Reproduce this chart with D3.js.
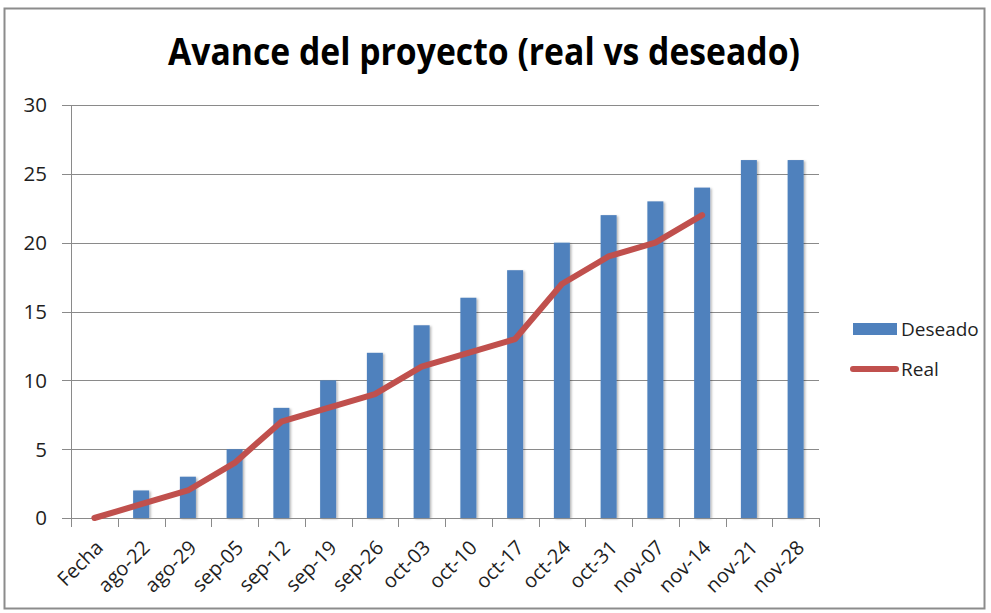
<!DOCTYPE html>
<html>
<head>
<meta charset="utf-8">
<script src="https://cdn.jsdelivr.net/npm/d3@7"></script>
<style>
  body { margin: 0; background: #fff; }
  svg { font-family: "Open Sans", "DejaVu Sans", sans-serif; }
</style>
</head>
<body>
<div id="chart"></div>
<script>
// chart data
var categories = ["Fecha", "ago-22", "ago-29", "sep-05", "sep-12", "sep-19", "sep-26", "oct-03",
    "oct-10", "oct-17", "oct-24", "oct-31", "nov-07", "nov-14", "nov-21", "nov-28"];
var deseado = [0, 2, 3, 5, 8, 10, 12, 14, 16, 18, 20, 22, 23, 24, 26, 26];
var real = [0, 1, 2, 4, 7, 8, 9, 11, 12, 13, 17, 19, 20, 22];
var yTicks = [0, 5, 10, 15, 20, 25, 30];

var blue = '#4F81BD';
var red = '#C0504D';

var W = 991, H = 613;
var margin = { top: 105, left: 71 },
    width = 819 - margin.left,
    height = 518 - margin.top;

var svg = d3.select("#chart")
    .append("svg")
    .attr("width", W)
    .attr("height", H);

// drop shadow for bars
var defs = svg.append("defs");
var f = defs.append("filter").attr("id", "shadow")
    .attr("x", "-30%").attr("y", "-5%").attr("width", "160%").attr("height", "110%");
f.append("feDropShadow").attr("dx", 1.5).attr("dy", 1).attr("stdDeviation", 1.2)
    .attr("flood-color", "#000").attr("flood-opacity", 0.3);

// outer frame
svg.append("rect")
    .attr("x", 4.5).attr("y", 8.5)
    .attr("width", 980).attr("height", 600)
    .attr("fill", "#fff")
    .attr("stroke", "#8c8c8c")
    .attr("stroke-width", 2);

// title
svg.append("text")
    .attr("x", 484)
    .attr("y", 65)
    .attr("text-anchor", "middle")
    .attr("font-family", "'Liberation Sans Narrow', 'Open Sans', sans-serif")
    .attr("font-size", 38)
    .attr("font-weight", "bold")
    .attr("textLength", 632)
    .attr("lengthAdjust", "spacingAndGlyphs")
    .attr("fill", "#000")
    .text("Avance del proyecto (real vs deseado)");

var g = svg.append("g")
    .attr("transform", "translate(" + margin.left + "," + margin.top + ")");

var x = d3.scaleBand()
    .domain(categories)
    .range([0, width]);

var y = d3.scaleLinear()
    .domain([0, 30])
    .range([height, 0]);

// gridlines
g.append("g")
    .selectAll("line")
    .data(yTicks)
    .enter()
    .append("line")
    .attr("x1", -9)
    .attr("x2", width)
    .attr("y1", function (d) { return Math.round(y(d)) + 0.5 })
    .attr("y2", function (d) { return Math.round(y(d)) + 0.5 })
    .attr("stroke", "#8a8a8a")
    .attr("stroke-width", 1);

// y labels
g.append("g")
    .selectAll("text")
    .data(yTicks)
    .enter()
    .append("text")
    .attr("x", -24)
    .attr("y", function (d) { return y(d) })
    .attr("dy", "0.36em")
    .attr("text-anchor", "end")
    .attr("font-size", 20.5)
    .attr("fill", "#1f1f1f")
    .text(function (d) { return d });

// y axis line
g.append("line")
    .attr("x1", 0.5).attr("x2", 0.5)
    .attr("y1", 0).attr("y2", height)
    .attr("stroke", "#8a8a8a");

// x axis ticks
var tickPos = categories.map(function (c) { return x(c) }).concat([width]);
g.append("g")
    .selectAll("line")
    .data(tickPos)
    .enter()
    .append("line")
    .attr("x1", function (d) { return Math.round(d) + 0.5 })
    .attr("x2", function (d) { return Math.round(d) + 0.5 })
    .attr("y1", height)
    .attr("y2", height + 9)
    .attr("stroke", "#8a8a8a");

// bars
var barW = 16;
g.append("g")
    .selectAll("rect")
    .data(categories.map(function (c, i) { return { c: c, v: deseado[i] } }).filter(function (d) { return d.v > 0 }))
    .enter()
    .append("rect")
    .attr("x", function (d) { return x(d.c) + x.bandwidth() / 2 - barW / 2 })
    .attr("y", function (d) { return y(d.v) })
    .attr("width", barW)
    .attr("height", function (d) { return height - y(d.v) })
    .attr("fill", blue)
    .attr("filter", "url(#shadow)");

// x axis baseline
g.append("line")
    .attr("x1", 0).attr("x2", width)
    .attr("y1", height + 0.5).attr("y2", height + 0.5)
    .attr("stroke", "#8a8a8a");

// line
g.append("path")
    .datum(real)
    .attr("fill", "none")
    .attr("stroke", red)
    .attr("stroke-width", 6)
    .attr("stroke-linecap", "round")
    .attr("stroke-linejoin", "round")
    .attr("d", d3.line()
        .x(function (d, i) { return x(categories[i]) + x.bandwidth() / 2 })
        .y(function (d) { return y(d) })
    );

// x labels
g.append("g")
    .selectAll("text")
    .data(categories)
    .enter()
    .append("text")
    .attr("transform", function (d) {
        return "translate(" + (x(d) + x.bandwidth() / 2 + 5) + "," + (height + 26) + ") rotate(-45)";
    })
    .attr("text-anchor", "end")
    .attr("dy", "0.35em")
    .attr("font-size", 20)
    .attr("fill", "#1f1f1f")
    .text(function (d) { return d });

// legend
var legend = svg.append("g");
legend.append("rect")
    .attr("x", 853).attr("y", 323)
    .attr("width", 44).attr("height", 12)
    .attr("fill", blue);
legend.append("text")
    .attr("x", 901).attr("y", 329)
    .attr("dy", "0.36em")
    .attr("font-size", 19)
    .attr("fill", "#1f1f1f")
    .text("Deseado");
legend.append("line")
    .attr("x1", 853).attr("x2", 896)
    .attr("y1", 369).attr("y2", 369)
    .attr("stroke", red)
    .attr("stroke-width", 6)
    .attr("stroke-linecap", "round");
legend.append("text")
    .attr("x", 901).attr("y", 369)
    .attr("dy", "0.36em")
    .attr("font-size", 19)
    .attr("fill", "#1f1f1f")
    .text("Real");
</script>
</body>
</html>
